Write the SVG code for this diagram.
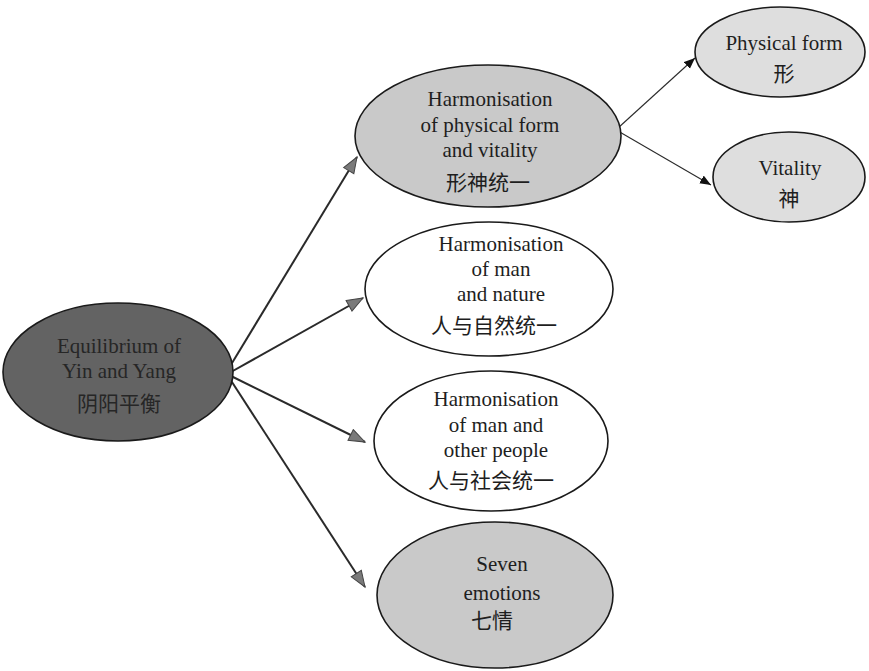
<svg xmlns="http://www.w3.org/2000/svg" width="869" height="671" viewBox="0 0 869 671">
<defs>
<style>
.el{stroke:#1a1a1a;stroke-width:1.6}
.dark{fill:#636363}
.mid{fill:#c9c9c9}
.light{fill:#dedede}
.white{fill:#ffffff}
.t{font-family:"Liberation Serif","Times New Roman",serif;font-size:21px;fill:#1e1e1e;text-anchor:middle}
.c{font-family:"Noto Sans CJK SC",sans-serif;font-size:21px;fill:#1e1e1e;text-anchor:middle}
.td{fill:#262626}
.big{stroke:#2a2a2a;stroke-width:2;fill:none}
.small{stroke:#2a2a2a;stroke-width:1.1;fill:none}
</style>
<marker id="ah" markerUnits="userSpaceOnUse" markerWidth="20" markerHeight="15" refX="17" refY="7" orient="auto">
<path d="M1,1 L17,7 L1,13 Z" fill="#7a7a7a" stroke="#444" stroke-width="1"/>
</marker>
<marker id="as" markerUnits="userSpaceOnUse" markerWidth="12" markerHeight="10" refX="11" refY="4.5" orient="auto">
<path d="M0,0 L11,4.5 L0,9 Z" fill="#111"/>
</marker>
</defs>
<rect width="869" height="671" fill="#ffffff"/>
<g id="connectors">
<line class="big" x1="229" y1="368" x2="357" y2="157" marker-end="url(#ah)"/>
<line class="big" x1="231" y1="372" x2="363" y2="298" marker-end="url(#ah)"/>
<line class="big" x1="231" y1="376" x2="365" y2="442" marker-end="url(#ah)"/>
<line class="big" x1="230" y1="379" x2="365" y2="587" marker-end="url(#ah)"/>
<line class="small" x1="618" y1="128" x2="695" y2="58" marker-end="url(#as)"/>
<line class="small" x1="618" y1="131" x2="711" y2="185" marker-end="url(#as)"/>
</g>
<g id="n-center">
<ellipse class="el dark" cx="118" cy="372" rx="115" ry="69"/>
<text class="t td" x="119" y="353">Equilibrium of</text>
<text class="t td" x="119" y="378">Yin and Yang</text>
<text class="c td" x="119" y="411">阴阳平衡</text>
</g>
<g id="n-form-vitality">
<ellipse class="el mid" cx="488" cy="136" rx="133" ry="71"/>
<text class="t" x="490" y="106">Harmonisation</text>
<text class="t" x="490" y="132">of physical form</text>
<text class="t" x="490" y="157">and vitality</text>
<text class="c" x="488" y="190">形神统一</text>
</g>
<g id="n-physical">
<ellipse class="el light" cx="780" cy="52" rx="85" ry="45"/>
<text class="t" x="784" y="50">Physical form</text>
<text class="c" x="784" y="81">形</text>
</g>
<g id="n-vitality">
<ellipse class="el light" cx="789" cy="177" rx="76" ry="45"/>
<text class="t" x="790" y="175">Vitality</text>
<text class="c" x="789" y="206">神</text>
</g>
<g id="n-nature">
<ellipse class="el white" cx="489" cy="289" rx="124" ry="67"/>
<text class="t" x="501" y="251">Harmonisation</text>
<text class="t" x="501" y="276">of man</text>
<text class="t" x="501" y="301">and nature</text>
<text class="c" x="494" y="333">人与自然统一</text>
</g>
<g id="n-people">
<ellipse class="el white" cx="491" cy="441" rx="117" ry="70"/>
<text class="t" x="496" y="406">Harmonisation</text>
<text class="t" x="496" y="432">of man and</text>
<text class="t" x="496" y="457">other people</text>
<text class="c" x="491" y="488">人与社会统一</text>
</g>
<g id="n-emotions">
<ellipse class="el mid" cx="495" cy="595" rx="118" ry="73"/>
<text class="t" x="502" y="571">Seven</text>
<text class="t" x="502" y="600">emotions</text>
<text class="c" x="492" y="628">七情</text>
</g>
</svg>
